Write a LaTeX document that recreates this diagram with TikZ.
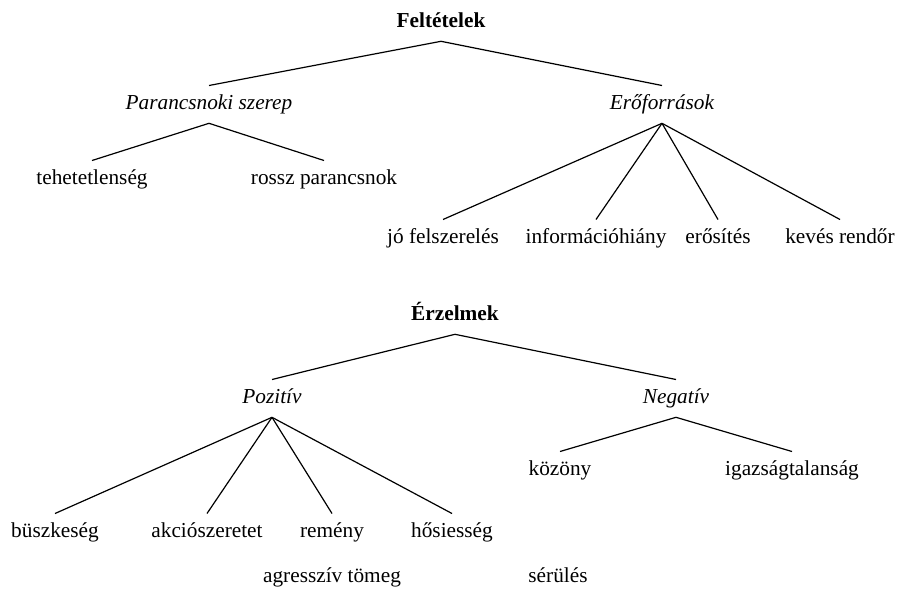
\documentclass[tikz,border=0pt]{standalone}
\usepackage{fontspec}
\setmainfont{Liberation Serif}
\newcommand{\treefont}{\fontsize{10.65}{13}\selectfont}

\begin{document}
\begin{tikzpicture}
                [x=0.5pt, y=-0.5pt,
                    every node/.style={font=\treefont, anchor=base,
                        text height=7.25pt, text depth=2.65pt,
                        inner xsep=0pt, inner ysep=4.3pt},
                    root/.style={font=\treefont\bfseries},
                    group/.style={font=\treefont\itshape},
                ]
                \tikzstyle{edge}=[line width=0.6pt]
                \useasboundingbox (0,0) rectangle (900,596);
                % Feltetelek
                \node[root] (felt) at (441,27) {Feltételek};
                \node[group] (parancs) at (209,109) {Parancsnoki szerep};
                \node[group] (eroforr) at (662,109) {Erőforrások};
                \node (tehet) at (92,184) {tehetetlenség};
                \node (rossz) at (324,184) {rossz parancsnok};
                \node (felsz) at (443,243) {jó felszerelés};
                \node (info) at (596,243) {információhiány};
                \node (erosit) at (718,243) {erősítés};
                \node (keves) at (840,243) {kevés rendőr};
                \draw[edge] (parancs.north) -- (felt.south) -- (eroforr.north);
                \draw[edge] (tehet.north) -- (parancs.south) -- (rossz.north);
                \foreach \c in {felsz,info,erosit,keves}
                    \draw[edge] (eroforr.south) -- (\c.north);
                % Erzelmek
                \node[root] (erz) at (455,320) {Érzelmek};
                \node[group] (poz) at (272,403) {Pozitív};
                \node[group] (neg) at (676,403) {Negatív};
                \node (buszke) at (55,537) {büszkeség};
                \node (akcio) at (207,537) {akciószeretet};
                \node (remeny) at (332,537) {remény};
                \node (hosi) at (452,537) {hősiesség};
                \node (kozony) at (560,475) {közöny};
                \node (igazs) at (792,475) {igazságtalanság};
                \node (agressz) at (332,582) {agresszív tömeg};
                \node (serul) at (558,582) {sérülés};
                \draw[edge] (poz.north) -- (erz.south) -- (neg.north);
                \foreach \c in {buszke,akcio,remeny,hosi}
                    \draw[edge] (poz.south) -- (\c.north);
                \draw[edge] (kozony.north) -- (neg.south) -- (igazs.north);
            \end{tikzpicture}
\end{document}
